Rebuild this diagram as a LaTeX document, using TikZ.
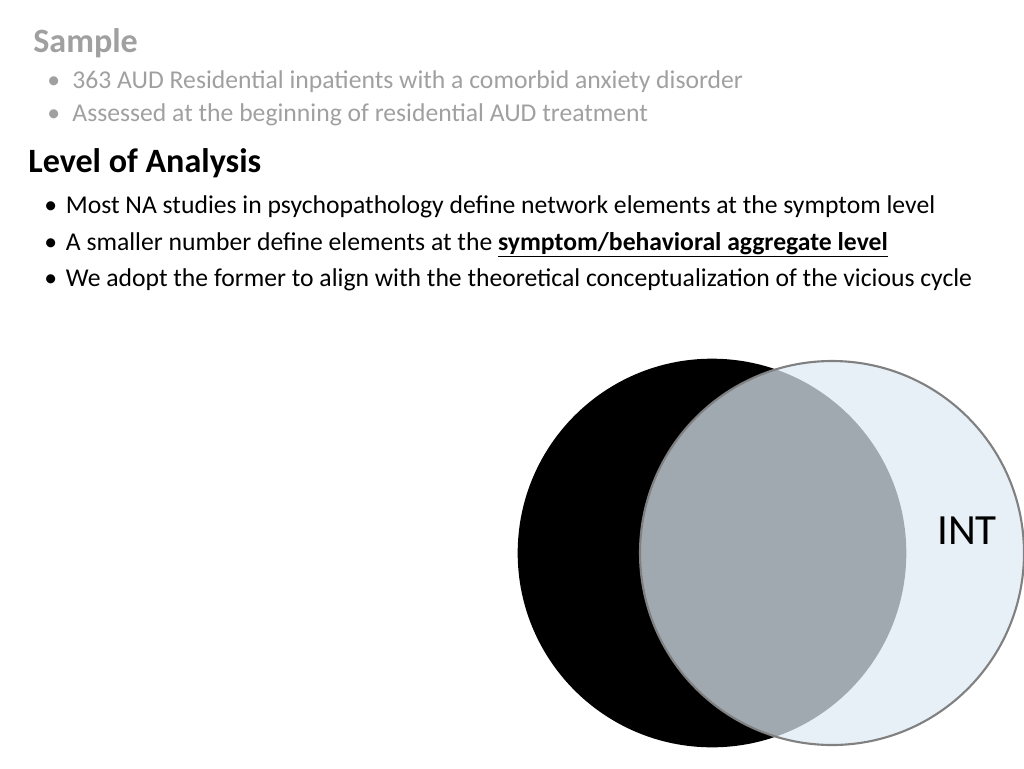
\documentclass[tikz,border=0pt]{standalone}
\usepackage{fontspec}
\setmainfont{Carlito}
\definecolor{greytext}{RGB}{160,160,160}
\definecolor{audpink}{RGB}{255,182,255}
\definecolor{intblue}{RGB}{222,234,244}

\begin{document}
\begin{tikzpicture}[x=0.02cm,y=-0.02cm]
        % frame
        \useasboundingbox (0,0) rectangle (1024,768);
        \tikzset{
            heading/.style={anchor=base west,inner sep=0pt,font=\fontsize{19.4}{22}\selectfont\bfseries},
            bullet/.style={anchor=base west,inner sep=0pt,font=\fontsize{14.6}{17}\selectfont},
            setlabel/.style={font=\fontsize{24.5}{28}\selectfont}
        }

        % Draw the sample block
        \node[heading,text=greytext] (sample) at (33,52) {Sample};
        \node[bullet,text=greytext] (s1) at (47,88) {\textbullet\hspace{7pt}363 AUD Residential inpatients with a comorbid anxiety disorder};
        \node[bullet,text=greytext] (s2) at (47,121) {\textbullet\hspace{7pt}Assessed at the beginning of residential AUD treatment};

        % Draw the analysis block
        \node[heading] (level) at (28,172) {Level of Analysis};
        \node[bullet] (l1) at (44,213) {\textbullet\hspace{5pt}Most NA studies in psychopathology define network elements at the symptom level};
        \node[bullet] (l2) at (44,250) {\textbullet\hspace{5pt}A smaller number define elements at the \underline{\textbf{symptom/behavioral aggregate level}}};
        \node[bullet] (l3) at (44,286) {\textbullet\hspace{5pt}We adopt the former to align with the theoretical conceptualization of the vicious cycle};

        % Draw the two sets
        \draw[fill=audpink,black,line width=1.5pt] (712,553) circle (193);
        \fill[intblue,fill opacity=0.72] (832,553) circle (192);
        \draw[black!50,line width=1.2pt] (832,553) circle (192);
        \node[setlabel] (aud) at (586,527) {AUD};
        \node[setlabel] (int) at (967,531) {INT};
\end{tikzpicture}
\end{document}
